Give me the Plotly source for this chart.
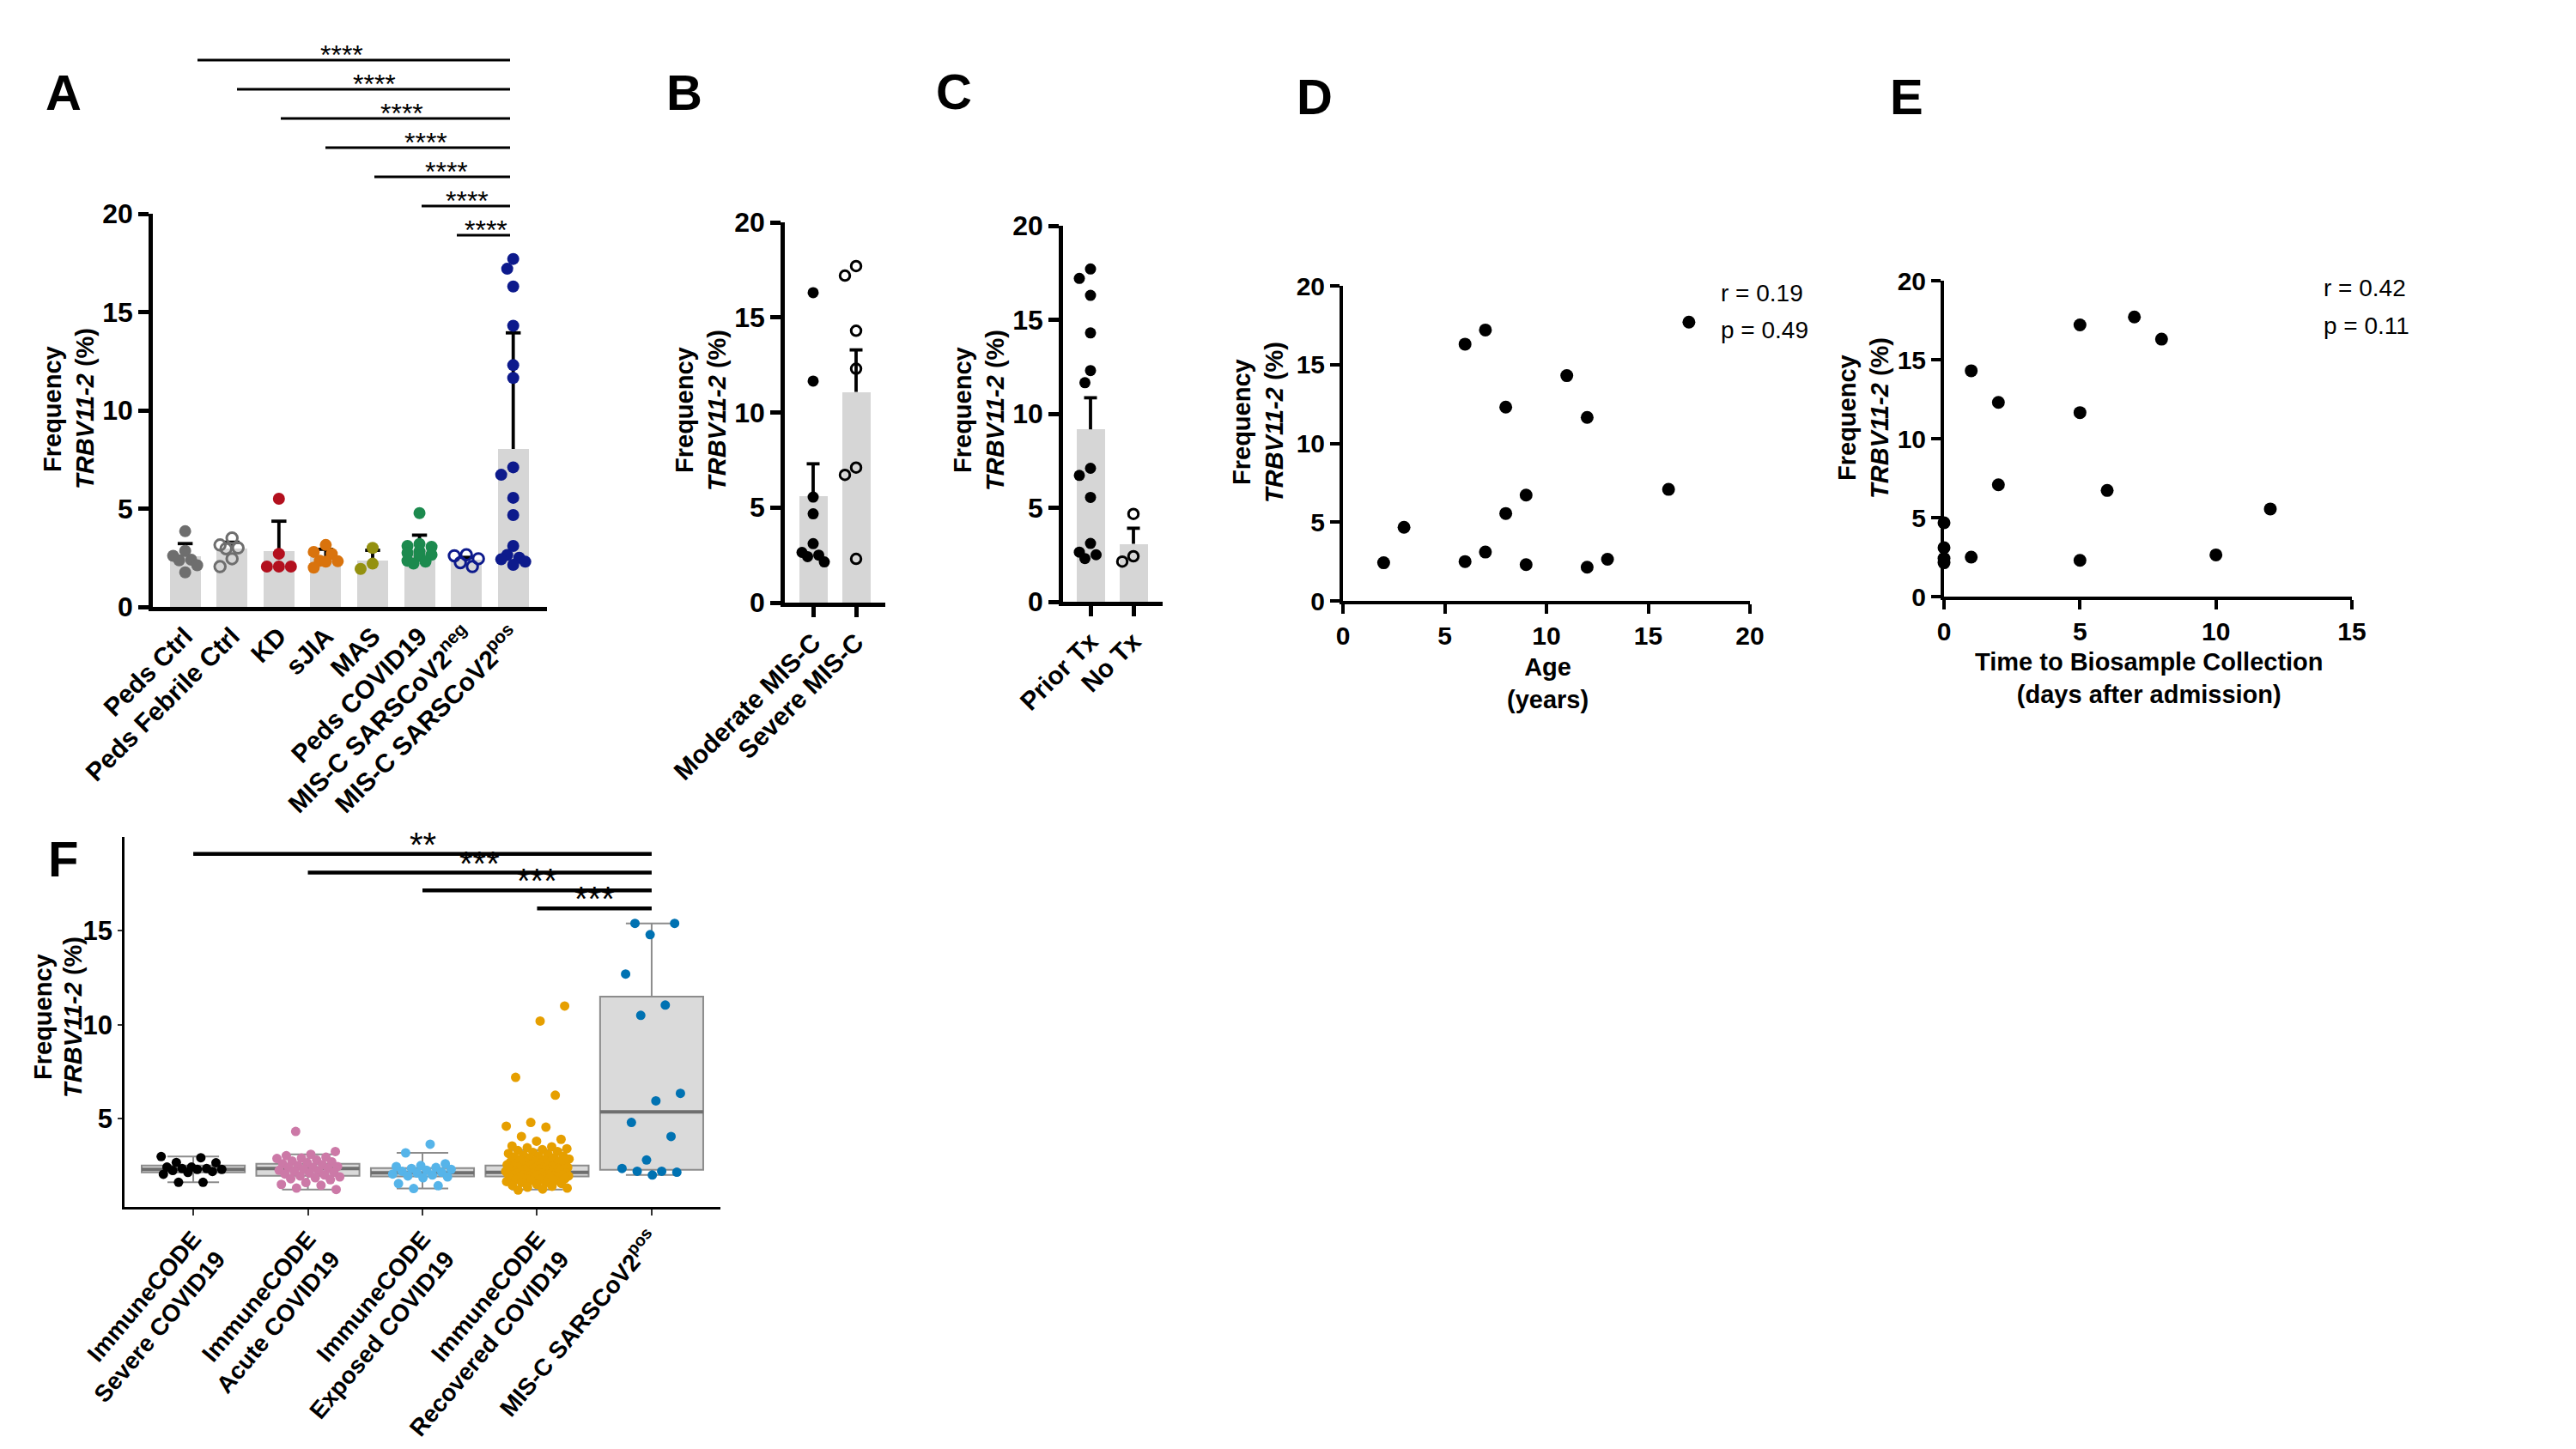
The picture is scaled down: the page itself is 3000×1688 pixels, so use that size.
import plotly.graph_objects as go

W, H = 3000, 1688
FONT = "Liberation Sans, Arial, Helvetica, sans-serif"
BAR_GRAY = "#d6d6d6"


def fx(p):
    return p / W


def fy(p):
    return 1 - p / H


# ---------------- DATA ----------------
# Panel A
A_groups = ["Peds Ctrl", "Peds Febrile Ctrl", "KD", "sJIA", "MAS", "Peds COVID19",
            "MIS-C SARSCoV2<sup>neg</sup>", "MIS-C SARSCoV2<sup>pos</sup>"]
A_peds_ctrl = [3.85, 2.85, 2.6, 2.4, 2.37, 2.12, 1.76]
A_febrile = [3.5, 3.15, 3.0, 2.96, 2.45, 2.05]
A_kd = [5.5, 2.7, 2.05, 2.05, 2.05]
A_sjia = [3.15, 2.8, 2.7, 2.35, 2.32, 2.3, 2.0]
A_mas = [3.0, 2.2, 1.93]
A_peds_covid = [4.77, 3.2, 3.1, 3.06, 2.83, 2.75, 2.65, 2.6, 2.35, 2.3, 2.2]
A_misc_neg = [2.65, 2.6, 2.45, 2.25, 2.05]
A_misc_pos = [17.7, 17.2, 16.3, 14.3, 12.3, 11.65, 7.1, 6.72, 5.55, 4.67, 3.1, 2.64, 2.5, 2.42, 2.3, 2.14]
A_bar = [2.57, 2.95, 2.86, 2.52, 2.38, 2.89, 2.41, 8.03]
A_err = [0.65, 0.34, 1.5, 0.41, 0.5, 0.76, 0.11, 5.91]
A_sig = ["****"] * 7

# Panel B
B_groups = ["Moderate MIS-C", "Severe MIS-C"]
B_moderate = [16.3, 11.65, 5.55, 4.67, 3.1, 2.64, 2.5, 2.42, 2.14]
B_severe = [17.7, 17.2, 14.3, 12.3, 7.1, 6.72, 2.3]
B_bar = [5.62, 11.08]
B_err = [1.68, 2.21]

# Panel C
C_groups = ["Prior Tx", "No Tx"]
C_prior = [17.7, 17.2, 16.3, 14.3, 12.3, 11.65, 7.1, 6.72, 5.55, 3.1, 2.64, 2.5, 2.3]
C_none = [4.67, 2.42, 2.14]
C_bar = [9.17, 3.08]
C_err = [1.68, 0.83]

# Panel D
D_age = [2, 3, 6, 6, 7, 7, 8, 8, 9, 9, 11, 12, 12, 13, 16, 17]
D_freq = [2.42, 4.67, 16.3, 2.5, 17.2, 3.1, 12.3, 5.55, 6.72, 2.3, 14.3, 11.65, 2.14, 2.64, 7.08, 17.7]
D_stats = ["r = 0.19", "p = 0.49"]

# Panel E
E_days = [0, 0, 0, 0, 1, 1, 2, 2, 5, 5, 5, 6, 7, 8, 10, 12]
E_freq = [4.67, 3.1, 2.42, 2.14, 14.3, 2.5, 12.3, 7.08, 17.2, 11.65, 2.3, 6.72, 17.7, 16.3, 2.64, 5.55]
E_stats = ["r = 0.42", "p = 0.11"]

# Panel F
F_groups = ["ImmuneCODE<br>Severe COVID19", "ImmuneCODE<br>Acute COVID19",
            "ImmuneCODE<br>Exposed COVID19", "ImmuneCODE<br>Recovered COVID19",
            "MIS-C SARSCoV2<sup>pos</sup>"]
F_severe = [2.98, 2.92, 2.67, 2.65, 2.42, 2.42, 2.34, 2.34, 2.3, 2.3, 2.24, 2.19, 2.14, 2.04, 1.61, 1.61]
F_acute = [4.32, 3.25, 3.1, 3.03, 2.95, 2.9, 2.88, 2.8, 2.75, 2.7, 2.65, 2.6, 2.55, 2.5, 2.45, 2.4,
           2.4, 2.35, 2.3, 2.25, 2.2, 2.2, 2.15, 2.1, 2.05, 2.0, 1.95, 1.9, 1.85, 1.8, 1.75, 1.6,
           1.5, 1.45, 1.3, 1.23]
F_exposed = [3.64, 3.18, 2.6, 2.5, 2.45, 2.4, 2.35, 2.3, 2.25, 2.2, 2.15, 2.1, 2.05, 2.0, 1.95,
             1.9, 1.85, 1.54, 1.43, 1.28]
F_recovered = [11.0, 10.2, 7.2, 6.25, 4.8, 4.6, 4.55, 4.05, 3.9, 3.8, 3.55, 3.5, 3.45, 3.4, 3.35,
               3.3, 3.25, 3.2, 3.15, 3.1, 3.05, 3.0, 3.0, 2.95, 2.9, 2.9, 2.85, 2.8, 2.8, 2.75,
               2.75, 2.7, 2.7, 2.65, 2.65, 2.6, 2.6, 2.6, 2.55, 2.55, 2.5, 2.5, 2.5, 2.45, 2.45,
               2.45, 2.4, 2.4, 2.4, 2.4, 2.35, 2.35, 2.35, 2.3, 2.3, 2.3, 2.3, 2.25, 2.25, 2.25,
               2.2, 2.2, 2.2, 2.2, 2.15, 2.15, 2.15, 2.15, 2.1, 2.1, 2.1, 2.1, 2.05, 2.05, 2.05,
               2.0, 2.0, 2.0, 2.0, 1.95, 1.95, 1.95, 1.9, 1.9, 1.9, 1.85, 1.85, 1.85, 1.8, 1.8,
               1.75, 1.75, 1.7, 1.7, 1.65, 1.6, 1.6, 1.55, 1.5, 1.45, 1.4, 1.35, 1.3, 1.25, 1.2]
F_misc = [15.4, 15.4, 14.8, 12.7, 11.05, 10.5, 6.35, 5.95, 4.8, 4.05, 2.8, 2.35, 2.2, 2.2, 2.15, 2.0]
F_q1 = [2.14, 1.96, 1.92, 1.92, 2.28]
F_median = [2.3, 2.34, 2.12, 2.14, 5.36]
F_q3 = [2.5, 2.6, 2.37, 2.5, 11.5]
F_lower = [1.61, 1.23, 1.28, 1.23, 2.0]
F_upper = [2.98, 3.1, 3.18, 3.33, 15.4]
F_sig = ["**", "***", "***", "***"]
F_sig_from = [0, 1, 2, 3]
F_sig_to = 4
F_sig_y = [19.1, 18.1, 17.15, 16.2]

# ---------------- HELPERS ----------------
fig = go.Figure()


def swarm(vals, ppu_y, ppu_x, diam, maxoff, sep):
    """Deterministic beeswarm offsets (category units) that stay within maxoff px."""
    n = len(vals)
    order = sorted(range(n), key=lambda i: -vals[i])
    placed = []
    offs = [0.0] * n
    step = diam * 0.5
    mind = diam * sep
    cands = [0.0]
    j = 1
    while j * step <= maxoff:
        cands += [-j * step, j * step]
        j += 1
    for i in order:
        yp = vals[i] * ppu_y
        best, bestcost = 0.0, None
        for c in cands:
            cost = 0.0
            for a, b in placed:
                d = ((c - a) ** 2 + (yp - b) ** 2) ** 0.5
                if d < mind:
                    cost += mind - d
            if cost == 0:
                best = c
                break
            if bestcost is None or cost < bestcost - 1e-9:
                best, bestcost = c, cost
        placed.append((best, yp))
        offs[i] = best / ppu_x
    return offs


def bar_panel(xa, ya, group_vals, bars, errs, colors, opens, ppu_x, ppu_y, diam, cap, maxoff, sep):
    n = len(bars)
    fig.add_trace(go.Bar(x=list(range(n)), y=bars, width=0.66,
                         marker=dict(color=BAR_GRAY, line=dict(width=0)),
                         xaxis=xa, yaxis=ya, showlegend=False, hoverinfo="skip"))
    ex, ey = [], []
    for i in range(n):
        top = bars[i] + errs[i]
        ex += [i, i, None, i - cap, i + cap, None]
        ey += [bars[i], top, None, top, top, None]
    fig.add_trace(go.Scatter(x=ex, y=ey, mode="lines", line=dict(color="black", width=3.8),
                             xaxis=xa, yaxis=ya, showlegend=False, hoverinfo="skip"))
    for i, vals in enumerate(group_vals):
        offs = swarm(vals, ppu_y, ppu_x, diam, maxoff, sep)
        if opens[i]:
            mk = dict(symbol="circle-open", size=diam - 1.5, color=colors[i], line=dict(width=3, color=colors[i]))
        else:
            mk = dict(symbol="circle", size=diam, color=colors[i], line=dict(width=0))
        fig.add_trace(go.Scatter(x=[i + o for o in offs], y=vals, mode="markers", marker=mk,
                                 xaxis=xa, yaxis=ya, showlegend=False, cliponaxis=False))


# ---------------- PANEL A ----------------
A_colors = ["#6e6e6e", "#6e6e6e", "#b3101e", "#d9730d", "#949110", "#1c8a4e", "#0d1a8c", "#0d1a8c"]
A_open = [False, True, False, False, False, False, True, False]
bar_panel("x", "y",
          [A_peds_ctrl, A_febrile, A_kd, A_sjia, A_mas, A_peds_covid, A_misc_neg, A_misc_pos],
          A_bar, A_err, A_colors, A_open, 54.6, 22.9, 14, 0.16, 15, 0.85)

# ---------------- PANEL B ----------------
bar_panel("x2", "y2", [B_moderate, B_severe], B_bar, B_err, ["black", "black"], [False, True],
          50, 22.15, 13, 0.15, 14, 1.1)

# ---------------- PANEL C ----------------
bar_panel("x3", "y3", [C_prior, C_none], C_bar, C_err, ["black", "black"], [False, True],
          50, 21.9, 13, 0.15, 14, 1.1)

# ---------------- PANEL D / E ----------------
fig.add_trace(go.Scatter(x=D_age, y=D_freq, mode="markers", marker=dict(size=15, color="black"),
                         xaxis="x4", yaxis="y4", showlegend=False, cliponaxis=False))
fig.add_trace(go.Scatter(x=E_days, y=E_freq, mode="markers", marker=dict(size=15, color="black"),
                         xaxis="x5", yaxis="y5", showlegend=False, cliponaxis=False))

# ---------------- PANEL F ----------------
for i in range(5):
    fig.add_trace(go.Box(x=[i], q1=[F_q1[i]], median=[F_median[i]], q3=[F_q3[i]],
                         lowerfence=[F_lower[i]], upperfence=[F_upper[i]], width=0.9,
                         fillcolor="#dadada", line=dict(color="#8c8c8c", width=2),
                         boxpoints=False, xaxis="x6", yaxis="y6", showlegend=False, hoverinfo="skip"))
mx, my = [], []
for i in range(5):
    mx += [i - 0.45, i + 0.45, None]
    my += [F_median[i], F_median[i], None]
fig.add_trace(go.Scatter(x=mx, y=my, mode="lines", line=dict(color="#6e6e6e", width=4),
                         xaxis="x6", yaxis="y6", showlegend=False, hoverinfo="skip"))
F_colors = ["#000000", "#CC79A7", "#56B4E9", "#E69F00", "#0072B2"]
for i, vals in enumerate([F_severe, F_acute, F_exposed, F_recovered, F_misc]):
    offs = [0.28 * (2 * (((k * 0.6180339887) + 0.31 * i) % 1.0) - 1) for k in range(len(vals))]
    fig.add_trace(go.Scatter(x=[i + o for o in offs], y=vals, mode="markers",
                             marker=dict(size=11, color=F_colors[i]),
                             xaxis="x6", yaxis="y6", showlegend=False))

# ---------------- AXES ----------------
def axis(domain, rng, **kw):
    d = dict(domain=domain, range=rng, showgrid=False, zeroline=False, showline=True,
             linecolor="black", fixedrange=True, tickcolor="black", automargin=False)
    d.update(kw)
    return d


bold = lambda s: dict(family=FONT, size=s, color="black", weight="bold")

layout_axes = dict(
    xaxis=axis([fx(178), fx(637)], [-0.69, 7.72], anchor="y", tickmode="array",
               tickvals=list(range(8)), ticktext=A_groups, tickangle=-45, ticks="",
               linewidth=4.5, tickfont=bold(30)),
    yaxis=axis([fy(707), fy(249)], [0, 20], anchor="x", tickvals=[0, 5, 10, 15, 20],
               ticks="outside", ticklen=12, tickwidth=4.5, linewidth=4.5, tickfont=bold(32)),
    xaxis2=axis([fx(914), fx(1031)], [-0.66, 1.68], anchor="y2", tickmode="array",
                tickvals=[0, 1], ticktext=B_groups, tickangle=-45, ticks="outside",
                ticklen=12, tickwidth=4.5, linewidth=4.5, tickfont=bold(30)),
    yaxis2=axis([fy(702), fy(259)], [0, 20], anchor="x2", tickvals=[0, 5, 10, 15, 20],
                ticks="outside", ticklen=12, tickwidth=4.5, linewidth=4.5, tickfont=bold(32)),
    xaxis3=axis([fx(1238), fx(1354)], [-0.64, 1.68], anchor="y3", tickmode="array",
                tickvals=[0, 1], ticktext=C_groups, tickangle=-45, ticks="outside",
                ticklen=12, tickwidth=4.5, linewidth=4.5, tickfont=bold(30)),
    yaxis3=axis([fy(701), fy(263)], [0, 20], anchor="x3", tickvals=[0, 5, 10, 15, 20],
                ticks="outside", ticklen=12, tickwidth=4.5, linewidth=4.5, tickfont=bold(32)),
    xaxis4=axis([fx(1564), fx(2038)], [0, 20], anchor="y4", tickvals=[0, 5, 10, 15, 20],
                ticks="outside", ticklen=11, tickwidth=4, linewidth=4, tickfont=bold(30)),
    yaxis4=axis([fy(700), fy(333)], [0, 20], anchor="x4", tickvals=[0, 5, 10, 15, 20],
                ticks="outside", ticklen=11, tickwidth=4, linewidth=4, tickfont=bold(30)),
    xaxis5=axis([fx(2264), fx(2739)], [0, 15], anchor="y5", tickvals=[0, 5, 10, 15],
                ticks="outside", ticklen=11, tickwidth=4, linewidth=4, tickfont=bold(30)),
    yaxis5=axis([fy(695), fy(327)], [0, 20], anchor="x5", tickvals=[0, 5, 10, 15, 20],
                ticks="outside", ticklen=11, tickwidth=4, linewidth=4, tickfont=bold(30)),
    xaxis6=axis([fx(145), fx(839)], [-0.6, 4.6], anchor="y6", tickmode="array",
                tickvals=list(range(5)), ticktext=F_groups, tickangle=-50, ticks="outside",
                ticklen=7, tickwidth=2, tickcolor="#333333", linewidth=2.5, tickfont=bold(28)),
    yaxis6=axis([fy(1406), fy(975)], [0.3, 20.0], anchor="x6", tickvals=[5, 10, 15],
                ticks="outside", ticklen=5, tickwidth=2, tickcolor="#333333", linewidth=2.5,
                tickfont=bold(31)),
)

# ---------------- ANNOTATIONS & SHAPES ----------------
ann = []
shapes = []


def text(x, y, s, size, **kw):
    d = dict(x=fx(x), y=fy(y), xref="paper", yref="paper", text=s, showarrow=False,
             font=dict(family=FONT, size=size, color="black"), xanchor="center", yanchor="middle")
    d.update(kw)
    ann.append(d)


for lab, (x, y) in zip("ABCDEF", [(74, 108), (797, 108), (1111, 106), (1531, 112), (2220, 112), (73, 1000)]):
    text(x, y, "<b>%s</b>" % lab, 58)

# y-axis titles: two separate rotated lines (x of line 1, x of line 2, y centre)
Y_TITLE_POS = [(61, 99, 476), (797, 835, 478), (1121, 1159, 478),
               (1446, 1484, 492), (2151, 2189, 487), (50, 85, 1185)]
for x1, x2, yc in Y_TITLE_POS:
    text(x1, yc, "<b>Frequency</b>", 29, textangle=-90)
    text(x2, yc, "<b><i>TRBV11-2</i> (%)</b>", 29, textangle=-90)

text(1802, 796, "<b>Age</b><br><b>(years)</b>", 29)
text(2503, 790, "<b>Time to Biosample Collection</b><br><b>(days after admission)</b>", 29)

text(2002, 342, D_stats[0], 28, xanchor="left")
text(2002, 384, D_stats[1], 28, xanchor="left")
text(2704, 335, E_stats[0], 28, xanchor="left")
text(2704, 379, E_stats[1], 28, xanchor="left")

# Panel A significance bars
A_line_y = [70, 104, 138, 172, 206, 240, 274]
A_line_x0 = [230, 276, 327, 379, 436, 491, 532]
A_star_x = [398, 436, 468, 496, 520, 544, 566]
for k in range(7):
    shapes.append(dict(type="line", xref="paper", yref="paper", x0=fx(A_line_x0[k]), x1=fx(594),
                       y0=fy(A_line_y[k]), y1=fy(A_line_y[k]), line=dict(color="black", width=3)))
    text(A_star_x[k], A_line_y[k] - 6, A_sig[k], 32)

# Panel F significance bars (data coordinates)
for k in range(4):
    shapes.append(dict(type="line", xref="x6", yref="y6", x0=F_sig_from[k], x1=F_sig_to,
                       y0=F_sig_y[k], y1=F_sig_y[k], line=dict(color="black", width=4.5)))
    ann.append(dict(x=(F_sig_from[k] + F_sig_to) / 2, y=F_sig_y[k], xref="x6", yref="y6",
                    text=F_sig[k], showarrow=False, yanchor="bottom", yshift=-13,
                    font=dict(family=FONT, size=40, color="black")))

fig.update_layout(
    autosize=True,
    margin=dict(l=0, r=0, t=0, b=0, pad=0),
    paper_bgcolor="white", plot_bgcolor="white",
    font=dict(family=FONT, color="black"),
    showlegend=False, bargap=0,
    annotations=ann, shapes=shapes,
    **layout_axes,
)

post = ("document.documentElement.style.height='100%';"
        "document.body.style.margin='0';document.body.style.height='100%';"
        "document.body.style.overflow='hidden';"
        "var gd=document.getElementById('{plot_id}');"
        "gd.parentElement.style.height='100%';gd.parentElement.style.width='100%';"
        "gd.style.height='100%';gd.style.width='100%';"
        "Plotly.Plots.resize(gd);")

fig.write_html("out.html", include_plotlyjs=True, default_width="100%", default_height="100%",
               config={"responsive": True, "displayModeBar": False}, post_script=post)
